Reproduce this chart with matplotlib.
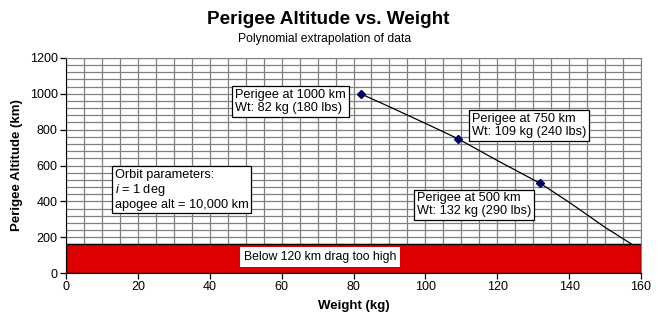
import matplotlib
matplotlib.use("Agg")
import matplotlib.pyplot as plt
from matplotlib.ticker import MultipleLocator

plt.rcParams['font.family'] = ['Liberation Sans', 'DejaVu Sans']
plt.rcParams['mathtext.fontset'] = 'custom'
plt.rcParams['mathtext.it'] = 'Liberation Sans:italic'
plt.rcParams['mathtext.rm'] = 'Liberation Sans'

# polynomial fit through the three known points, extended down to the drag limit
fit_wt = [82, 89, 100, 109, 120, 132, 140, 150, 157.5]
fit_alt = [1000, 937, 835, 750, 628, 500, 395, 255, 160]

# known points
pt_wt = [82, 109, 132]
pt_alt = [1000, 750, 500]
pt_labels = ["Perigee at 1000 km\nWt: 82 kg (180 lbs)",
             "Perigee at 750 km\nWt: 109 kg (240 lbs)",
             "Perigee at 500 km\nWt: 132 kg (290 lbs)"]
label_pos = [(47.1, 1028), (113, 894), (97.7, 450)]

drag_limit = 160
wt_range = [0, 160]

fig = plt.figure(figsize=(6.58, 3.22), dpi=100)
ax = fig.add_axes([0.1003, 0.152, 0.8739, 0.668])

ax.set_xlim(0, 160)
ax.set_ylim(0, 1200)
ax.xaxis.set_major_locator(MultipleLocator(20))
ax.yaxis.set_major_locator(MultipleLocator(200))
ax.xaxis.set_minor_locator(MultipleLocator(5))
ax.yaxis.set_minor_locator(MultipleLocator(40))
ax.grid(which='both', color='#808080', lw=0.9)
ax.set_axisbelow(True)
ax.tick_params(which='minor', length=0)
ax.tick_params(which='major', length=4, width=0.9, labelsize=9, pad=2)
for s in ['top', 'right']:
    ax.spines[s].set_color('#808080')
for s in ['left', 'bottom']:
    ax.spines[s].set_color('black')

# drag region
ax.fill_between(wt_range, 0, drag_limit, facecolor='#dd0000', edgecolor='black',
                lw=1.0, zorder=2)
ax.text(70.7, 90, "Below 120 km drag too high", fontsize=8.8, va='center',
        ha='center', zorder=4,
        bbox=dict(facecolor='white', edgecolor='none', pad=3))

ax.plot(fit_wt, fit_alt, color='black', lw=0.9, zorder=3)
ax.plot(pt_wt, pt_alt, ls='none', marker='D', ms=4, color='#000066', zorder=4)

for txt, (x, y) in zip(pt_labels, label_pos):
    ax.text(x, y, txt, fontsize=9.2, va='top', ha='left', zorder=5, linespacing=1.1,
            bbox=dict(facecolor='white', edgecolor='black', lw=0.9, pad=2))

ax.text(13.6, 583, "Orbit parameters:\n$\\it{i}$ = 1 deg\napogee alt = 10,000 km",
        fontsize=9.2, va='top', ha='left', zorder=5, linespacing=1.1,
        bbox=dict(facecolor='white', edgecolor='black', lw=0.9, pad=2))

ax.set_xlabel("Weight (kg)", fontsize=9.5, fontweight='bold', labelpad=5)
ax.set_ylabel("Perigee Altitude (km)", fontsize=9.5, fontweight='bold', labelpad=5)

fig.text(0.4985, 0.94, "Perigee Altitude vs. Weight", fontsize=13.6, fontweight='bold',
         ha='center', va='center')
fig.text(0.493, 0.878, "Polynomial extrapolation of data", fontsize=8.75,
         ha='center', va='center')

fig.savefig("out.png", dpi=100)
